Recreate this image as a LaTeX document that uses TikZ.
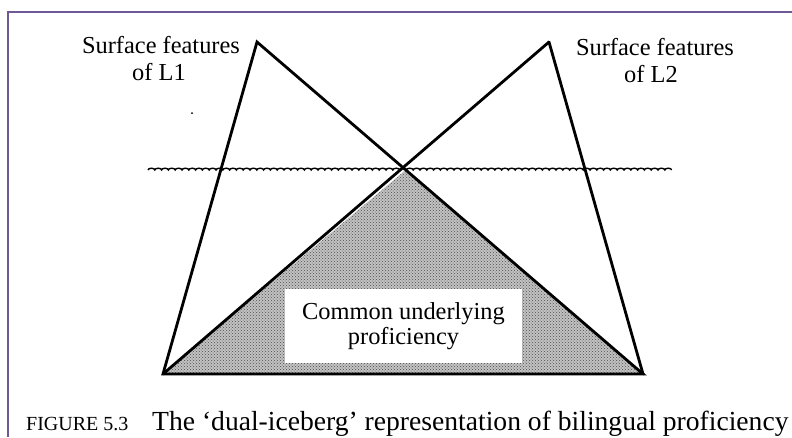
\documentclass[tikz,border=0pt]{standalone}
\usepackage{fontspec}
\setmainfont{Liberation Serif}
\usetikzlibrary{patterns,calc}
\definecolor{framepurple}{RGB}{112,88,150}
\begin{document}
\begin{tikzpicture}[x=1pt,y=-1pt,
  edge/.style={line width=2.8pt, line join=miter, line cap=round},
  lbl/.style={font=\fontsize{24.4}{29}\selectfont, inner sep=0pt, anchor=base},
  capsmall/.style={font=\fontsize{20}{24}\selectfont, inner sep=0pt, anchor=base west},
  capbig/.style={font=\fontsize{27.6}{32}\selectfont, inner sep=0pt, anchor=base west},
  wave/.style={line width=1.4pt},
  cupbox/.style={fill=white, draw=none, minimum width=237pt, minimum height=74pt, align=center,
    font=\fontsize{24.4}{25}\selectfont, inner sep=0pt}]
\useasboundingbox (0,0) rectangle (792,437);
\fill[white] (0,0) rectangle (792,437);
\draw[framepurple, line width=2pt] (7.5,437) -- (7.5,12) -- (792,12);
% corners
\coordinate (A1) at (257,42);
\coordinate (A2) at (549,42);
\coordinate (BL) at (163,374);
\coordinate (BR) at (643,374);
\coordinate (X) at ($(A1)!0.3855!(BR)$);
% shaded common part
\fill[gray!48] (X) -- (BL) -- (BR) -- cycle;
\fill[pattern=crosshatch dots, pattern color=black!70] (X) -- (BL) -- (BR) -- cycle;
% white label box
\node[cupbox] (cup) at (403.5,326) {Common underlying\\proficiency};
% waterline
\coordinate (W0) at (148,170);
\draw[wave] (W0) \foreach \i in {1,...,77} { arc[start angle=180, end angle=0, x radius=3.4pt, y radius=1.8pt] };
% triangles
\draw[edge] (A1) -- (BL) -- (BR) -- cycle;
\draw[edge] (A2) -- (BL);
\draw[edge] (A2) -- (BR);
% speck
\fill (192,113) circle (1pt);
% labels
\node[lbl] (s1a) at (161,53) {Surface features};
\node[lbl] (s1b) at (159,80) {of L1};
\node[lbl] (s2a) at (655,55) {Surface features};
\node[lbl] (s2b) at (651,82) {of L2};
% caption
\node[capsmall] (fig) at (26,430) {FIGURE 5.3};
\node[capbig] (cap) at (152,430) {The ‘dual-iceberg’ representation of bilingual proficiency};
\end{tikzpicture}
\end{document}
